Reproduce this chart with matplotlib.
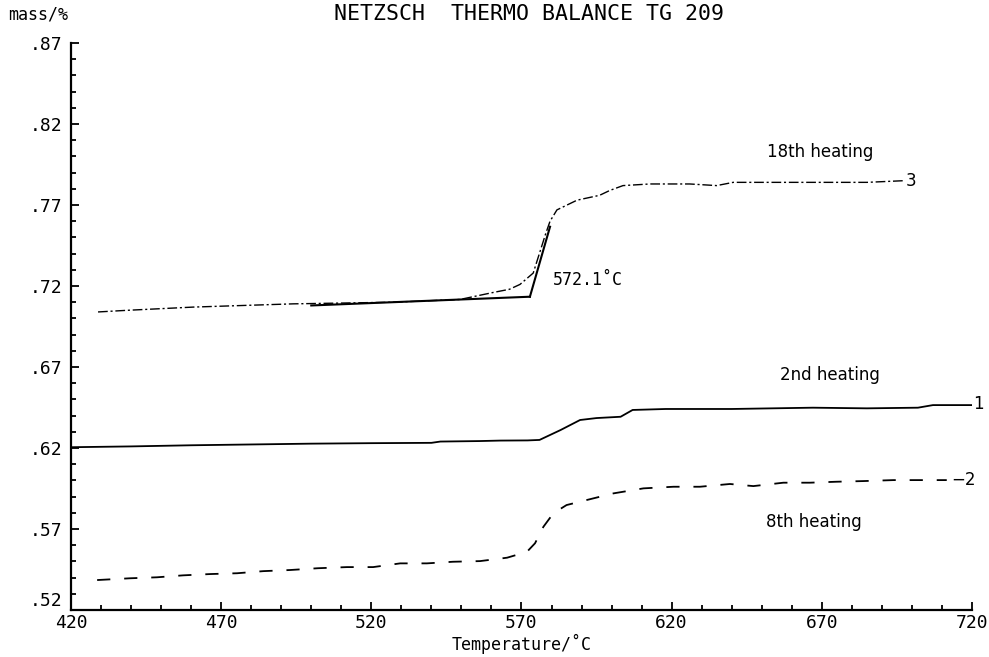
import matplotlib
matplotlib.use("Agg")
import matplotlib.pyplot as plt
from matplotlib.ticker import MultipleLocator

plt.rcParams['lines.scale_dashes'] = False

# 18th heating (curve 3)
t3 = [429, 438.6, 460.7, 494, 527, 549.5, 560.5, 566, 569.5, 573.9, 578, 579.5, 581.8,
      588.5, 596, 599.4, 603.8, 612.8, 626, 635, 640.5, 662.8, 685, 697]
m3 = [.704, .705, .707, .709, .710, .7117, .716, .718, .721, .728, .752, .760, .767,
      .773, .776, .779, .782, .783, .783, .782, .784, .784, .784, .785]

# 2nd heating (curve 1)
t1 = [420, 440, 460, 480, 500, 520, 540, 543, 556, 563, 572, 576, 583, 589.5, 595,
      603, 607, 618, 640, 667, 685, 702, 707, 720]
m1 = [.6205, .6210, .6217, .6222, .6227, .6230, .6232, .6240, .6243, .6246, .6247, .6250,
      .6311, .6373, .6385, .6393, .6435, .6441, .6441, .6449, .6445, .6449, .6465, .6465]

# 8th heating (curve 2)
t2 = [428.7, 439.7, 448.6, 457.3, 466.3, 475.3, 484, 493, 502.2, 511.9, 520.6, 529.6,
      538.5, 547.2, 556.2, 565.2, 571.8, 574.5, 577.3, 580.6, 585, 591.7, 600.6, 610.6,
      620.6, 629.4, 639.4, 647.2, 657.2, 666, 675, 683.8, 693.8, 702.7, 711.6]
m2 = [.5385, .5396, .5402, .5414, .5422, .5427, .5440, .5447, .5458, .5465, .5465, .5488,
      .5488, .5498, .5502, .5523, .5559, .5612, .5714, .5797, .5848, .5879, .5920, .5951,
      .5961, .5961, .5978, .5965, .5986, .5986, .5992, .5996, .6002, .6002, .6002]

# onset construction lines
base_t = [500, 572.8]
base_m = [.7080, .7134]
step_t = [572.8, 579.5]
step_m = [.7134, .7566]

xticks = [420, 470, 520, 570, 620, 670, 720]
yticks = [.52, .57, .62, .67, .72, .77, .82, .87]
ylabels = ['.52', '.57', '.62', '.67', '.72', '.77', '.82', '.87']

fig = plt.figure(figsize=(9.89, 6.57), dpi=100)
ax = fig.add_axes([0.0718, 0.0715, 0.911, 0.863])

ax.plot(t3, m3, color='black', lw=1.0, linestyle=(0, (7, 2, 1.5, 2)))
ax.plot(t1, m1, color='black', lw=1.3)
ax.plot(t2, m2, color='black', lw=1.3, linestyle=(0, (9.5, 10)))
ax.plot(base_t, base_m, color='black', lw=1.5)
ax.plot(step_t, step_m, color='black', lw=1.5)

mono = 'DejaVu Sans Mono'
ax.text(580.5, .7237, "572.1˚C", family=mono, fontsize=12, va='center', ha='left')
ax.text(698, .7848, "3", fontsize=12, va='center', ha='left')
ax.text(720.3, .647, "1", fontsize=12, va='center', ha='left')
ax.text(713, .6005, "−2", fontsize=12, va='center', ha='left')

ax.text(669.4, .8027, "18th heating", fontsize=12, ha='center', va='center')
ax.text(672.7, .665, "2nd heating", fontsize=12, ha='center', va='center')
ax.text(667.4, .5745, "8th heating", fontsize=12, ha='center', va='center')

ax.set_xlim(420, 720)
ax.set_ylim(.52, .87)
ax.set_xticks(xticks)
ax.set_yticks(yticks)
ax.set_yticklabels(ylabels)
ax.xaxis.set_minor_locator(MultipleLocator(10))
ax.yaxis.set_minor_locator(MultipleLocator(.01))

for s in ['top', 'right']:
    ax.spines[s].set_visible(False)
for s in ['left', 'bottom']:
    ax.spines[s].set_linewidth(1.6)
ax.tick_params(which='both', direction='in', width=1.3, labelsize=13)
ax.tick_params(axis='x', pad=3)
ax.tick_params(axis='y', pad=6)
ax.tick_params(which='major', length=6)
ax.tick_params(which='minor', length=3.5)
for lab in ax.get_xticklabels() + ax.get_yticklabels():
    lab.set_family(mono)
# lift the lowest y label a little so it clears the 420 label
ax.get_yticklabels()[0].set_va('bottom')

ax.set_xlabel("Temperature/˚C", family=mono, fontsize=12, labelpad=1)
fig.text(0.008, 0.978, "mass/%", family=mono, fontsize=12, va='center', ha='left')
fig.text(0.535, 0.978, "NETZSCH  THERMO BALANCE TG 209", family=mono, fontsize=15.5,
         va='center', ha='center')

fig.savefig("out.png", dpi=100)
